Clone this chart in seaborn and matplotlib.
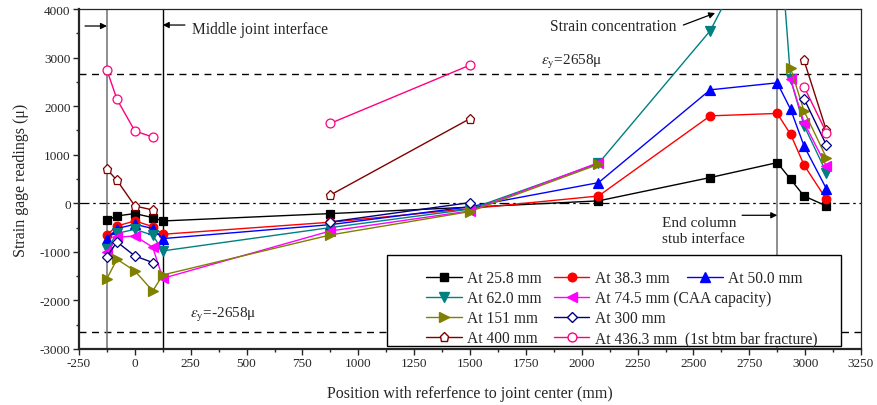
import numpy as np
import pandas as pd
import matplotlib
matplotlib.use("Agg")
import matplotlib.pyplot as plt
from matplotlib.lines import Line2D
from matplotlib.patches import Rectangle
import seaborn as sns

sns.set_style("ticks")
plt.rcParams["font.family"] = ["Liberation Serif", "DejaVu Serif"]
plt.rcParams["mathtext.fontset"] = "stix"
plt.rcParams["axes.unicode_minus"] = False

# ---------------- data ----------------
positions = [-125, -80, 0, 80, 125, 875, 1500, 2075, 2575, 2875, 2935, 2995, 3095]
nan = np.nan
# segment ids per position (same id -> connected line)
s_258 = [-350, -260, -212, -295, -364, -212, -80, 50, 530, 837, 494, 150, -55]
g_258 = [0] * 13
s_383 = [-650, -467, -364, -480, -638, -390, -110, 150, 1800, 1850, 1420, 788, 82]
g_383 = [0] * 13
s_500 = [-740, -520, -433, -520, -727, -440, -70, 425, 2336, 2480, 1934, 1180, 300]
g_500 = [0] * 13
s_620 = [-946, -620, -536, -658, -980, -500, -120, 820, 3552, 6200, 2550, 1600, 633]
g_620 = [0] * 13
s_745 = [-1000, -700, -672, -905, -1545, -570, -158, 837, nan, nan, 2551, 1660, 767]
g_745 = [0, 0, 0, 0, 0, 0, 0, 0, 1, 1, 1, 1, 1]
s_151 = [-1550, -1152, -1393, -1805, -1475, -652, -170, 802, nan, nan, 2778, 1900, 940]
g_151 = [0, 0, 0, 0, 0, 0, 0, 0, 1, 1, 1, 1, 1]
s_300 = [-1097, -796, -1084, -1220, nan, -384, 14, nan, nan, nan, nan, 2154, 1200]
g_300 = [0, 0, 0, 0, 1, 1, 1, 2, 2, 2, 2, 2, 2]
s_400 = [700, 473, -55, -138, nan, 170, 1743, nan, nan, nan, nan, 2942, 1502]
g_400 = [0, 0, 0, 0, 1, 1, 1, 2, 2, 2, 2, 2, 2]
s_436 = [2743, 2140, 1488, 1364, nan, 1646, 2845, nan, nan, nan, nan, 2400, 1455]
g_436 = [0, 0, 0, 0, 1, 1, 1, 2, 2, 2, 2, 2, 2]

labels = ["At 25.8 mm", "At 38.3 mm", "At 50.0 mm", "At 62.0 mm",
          "At 74.5 mm (CAA capacity)", "At 151 mm", "At 300 mm", "At 400 mm",
          "At 436.3 mm  (1st btm bar fracture)"]
values = [s_258, s_383, s_500, s_620, s_745, s_151, s_300, s_400, s_436]
groups = [g_258, g_383, g_500, g_620, g_745, g_151, g_300, g_400, g_436]

yield_strain = 2658
x_ticks = list(range(-250, 3251, 250))
y_ticks = list(range(-3000, 4001, 1000))

# ---------------- styles ----------------
styles = [
    dict(color="#000000", marker="s", ms=5.2, mfc="#000000"),
    dict(color="#FF0000", marker="o", ms=6.2, mfc="#FF0000"),
    dict(color="#0000FF", marker="^", ms=6.8, mfc="#0000FF"),
    dict(color="#008080", marker="v", ms=6.8, mfc="#008080"),
    dict(color="#FF00FF", marker="<", ms=6.8, mfc="#FF00FF"),
    dict(color="#808000", marker=">", ms=6.8, mfc="#808000"),
    dict(color="#000080", marker="D", ms=5.0, mfc="white"),
    dict(color="#800000", marker="p", ms=6.8, mfc="white"),
    dict(color="#FF0080", marker="o", ms=6.4, mfc="white"),
]

fig = plt.figure(figsize=(8.78, 4.06), dpi=100)
ax = fig.add_axes([79 / 878, (406 - 350) / 406, 782 / 878, 340 / 406])

for lab, vals, grp, st in zip(labels, values, groups, styles):
    df = pd.DataFrame({"x": positions, "y": vals, "seg": grp}).dropna()
    sns.lineplot(data=df, x="x", y="y", units="seg", estimator=None, sort=False,
                 ax=ax, color=st["color"], lw=1.0, marker=st["marker"],
                 markersize=st["ms"], markerfacecolor=st["mfc"],
                 markeredgecolor=st["color"], markeredgewidth=0.9, zorder=3,
                 legend=False)

# reference lines
ax.axhline(yield_strain, color="black", ls=(0, (5, 4)), lw=1.0, zorder=1)
ax.axhline(-yield_strain, color="black", ls=(0, (5, 4)), lw=1.0, zorder=1)
ax.axhline(0, color="black", ls=(0, (8, 3, 2, 3)), lw=0.9, zorder=1)
ax.axvline(-125, color="#707070", lw=1.1, zorder=1)
ax.axvline(125, color="black", lw=1.0, zorder=1)
ax.axvline(2875, color="#707070", lw=1.1, zorder=1)

ax.set_xlim(-250, 3250)
ax.set_ylim(-3000, 4000)
ax.set_xticks(x_ticks)
ax.set_xticks(list(range(-125, 3251, 250)), minor=True)
ax.set_yticks(y_ticks)
ax.set_yticks(list(range(-2500, 4001, 1000)), minor=True)
ax.tick_params(axis="both", which="major", direction="out", length=4, width=1, labelsize=9.5, pad=2)
ax.tick_params(axis="both", which="minor", direction="out", length=2.5, width=1)
for side in ["top", "right"]:
    ax.spines[side].set_linewidth(0.9)
for side in ["left", "bottom"]:
    ax.spines[side].set_linewidth(1.6)

ax.set_xlabel("Position with referfence to joint center (mm)", fontsize=11.5, labelpad=11)
ax.set_ylabel("Strain gage readings (μ)", fontsize=11.5, labelpad=8)

# annotations
arr = dict(arrowstyle="-|>", color="black", lw=0.9, mutation_scale=9, shrinkA=0, shrinkB=0)
ax.annotate("", xy=(-125, 3650), xytext=(-223, 3650), arrowprops=arr)
ax.annotate("", xy=(125, 3670), xytext=(224, 3670), arrowprops=arr)
ax.text(256, 3580, "Middle joint interface", fontsize=11.2, ha="left", va="center")
ax.text(1858, 3650, "Strain concentration", fontsize=11.2, ha="left", va="center")
ax.annotate("", xy=(2597, 3917), xytext=(2455, 3670), arrowprops=arr)
ax.text(2359, -557, "End column\nstub interface", fontsize=11, ha="left", va="center",
        linespacing=1.35)
ax.annotate("", xy=(2875, -247), xytext=(2718, -247), arrowprops=arr)
ax.text(1819, 2928, r"$\varepsilon_{\mathrm{y}}$=2658μ", fontsize=11, ha="left", va="center")
ax.text(247, -2289, r"$\varepsilon_{\mathrm{y}}$=-2658μ", fontsize=11, ha="left", va="center")

# legend
handles = [Line2D([], [], color=st["color"], lw=1.0, marker=st["marker"], markersize=st["ms"],
                  markerfacecolor=st["mfc"], markeredgecolor=st["color"]) for st in styles]
frame = Rectangle((0.394, 0.01), 0.580, 0.267, transform=ax.transAxes, facecolor="white",
                  edgecolor="black", lw=1.0, zorder=4)
ax.add_patch(frame)
order = [0, 3, 5, 7, 1, 4, 6, 8]
leg_kw = dict(frameon=False, borderpad=0, borderaxespad=0, fontsize=11.2, handlelength=2.3,
              handletextpad=0.33)
legA = ax.legend([handles[i] for i in order], [labels[i] for i in order], ncol=2,
                 loc="upper left", bbox_to_anchor=(0.4434, 0.231),
                 columnspacing=0.8, labelspacing=0.25, **leg_kw)
ax.add_artist(legA)
legB = ax.legend([handles[2]], [labels[2]], loc="upper left", bbox_to_anchor=(0.7775, 0.231),
                 **leg_kw)
legA.set_zorder(5)
legB.set_zorder(5)

fig.savefig("out.png", dpi=100)
